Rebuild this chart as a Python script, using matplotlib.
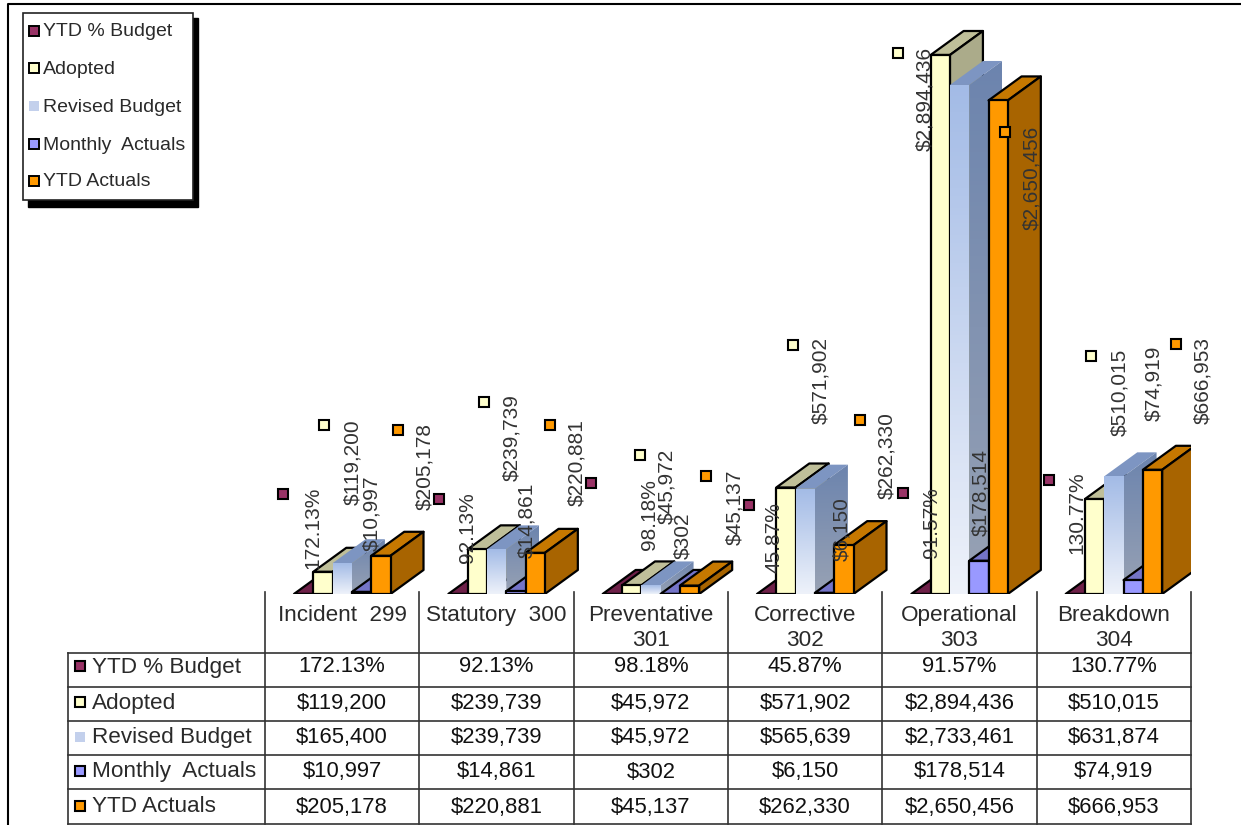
import numpy as np
import matplotlib
matplotlib.use("Agg")
import matplotlib.pyplot as plt
from matplotlib.patches import Polygon, Rectangle
from matplotlib.colors import LinearSegmentedColormap

plt.rcParams['font.family'] = ['Liberation Sans', 'DejaVu Sans']

# ---------- data ----------
categories = ["Incident  299", "Statutory  300", "Preventative\n301", "Corrective\n302", "Operational\n303", "Breakdown\n304"]
series_names = ["YTD % Budget", "Adopted", "Revised Budget", "Monthly  Actuals", "YTD Actuals"]
ytd_pct = [172.13, 92.13, 98.18, 45.87, 91.57, 130.77]
adopted = [119200, 239739, 45972, 571902, 2894436, 510015]
revised = [165400, 239739, 45972, 565639, 2733461, 631874]
monthly = [10997, 14861, 302, 6150, 178514, 74919]
ytd_actuals = [205178, 220881, 45137, 262330, 2650456, 666953]

# ---------- layout (pixels of the 1241x825 canvas) ----------
W, H = 1241, 825
BASE_Y = 594
PLOT_L, PLOT_R = 265, 1191
DOLLARS_PER_PX = 5370.0
CELL = (PLOT_R - PLOT_L) / 6
BAR_W = 19.3 / CELL
FIRST_BAR = 29 / CELL
DEPTH_X = 33 / CELL
DEPTH_Y = 24 * DOLLARS_PER_PX

pct_lab = [(313, 528), (467, 528), (649, 515), (774, 538), (931, 523), (1077, 513)]
ado_lab = [(353, 462), (512, 438), (667, 486), (821, 381), (925, 99), (1120, 392)]
mon_lab = [(372, 513), (527, 520), (683, 536), (842, 529), (981, 492), (1154, 383)]
act_lab = [(425, 467), (577, 463), (735, 507), (887, 456), (1032, 178), (1203, 381)]
pct_key = [(283, 494), (439, 499), (591, 483), (749, 505), (903, 493), (1049, 480)]
ado_key = [(324, 425), (484, 402), (640, 455), (793, 345), (898, 53), (1091, 356)]
act_key = [(398, 430), (550, 425), (706, 476), (860, 420), (1005, 132), (1176, 344)]

table_rows_y = [653, 687, 721, 755, 789, 824]
table_text_y = [667, 703, 738, 772, 807]
table_left = 68
legend_y = [32, 69, 107, 145, 182]

FRONT = ["#993366", "#FFFFCC", None, "#9999FF", "#FF9900"]
TOP = ["#6E2048", "#BFBF99", "#7D95C2", "#7474C8", "#C67800"]
SIDE = ["#6E2048", "#ABAB8A", None, "#6E6EB8", "#A86400"]
KEY_EDGE = ["black", "black", "none", "black", "black"]
KEY_FACE = ["#993366", "#FFFFCC", "#C3D0EC", "#9999FF", "#FF9900"]
INK = "#2A2A2A"

fig = plt.figure(figsize=(W / 100, H / 100), dpi=100, facecolor="white")

# chart axes: x in category cells, y in dollars
ax = fig.add_axes([PLOT_L / W, 1 - BASE_Y / H, (PLOT_R - PLOT_L) / W, BASE_Y / H])
ax.set_xlim(0, 6)
ax.set_ylim(0, BASE_Y * DOLLARS_PER_PX)
ax.axis("off")

front_cmap = LinearSegmentedColormap.from_list("f", ["#A3BBE6", "#EEF2FA"])
side_cmap = LinearSegmentedColormap.from_list("s", ["#6C84AE", "#98A2B4"])
grad = np.linspace(0, 1, 128).reshape(-1, 1)


def draw_bar(x, h, i, z):
    x0, x1 = x, x + BAR_W
    dx, dy = DEPTH_X, DEPTH_Y
    top = [(x0, h), (x1, h), (x1 + dx, h + dy), (x0 + dx, h + dy)]
    side = [(x1, 0), (x1 + dx, dy), (x1 + dx, h + dy), (x1, h)]
    front = [(x0, 0), (x1, 0), (x1, h), (x0, h)]
    if FRONT[i] is None:  # revised budget: soft gradient with no outline
        ax.add_patch(Polygon(top, closed=True, fc=TOP[i], ec="none", zorder=z))
        p = Polygon(side, closed=True, fc="none", ec="none", zorder=z)
        ax.add_patch(p)
        im = ax.imshow(grad, extent=(x1, x1 + dx, 0, h + dy), cmap=side_cmap, aspect="auto",
                       origin="upper", zorder=z + 0.1)
        im.set_clip_path(p)
        p2 = Polygon(front, closed=True, fc="none", ec="none", zorder=z)
        ax.add_patch(p2)
        im2 = ax.imshow(grad, extent=(x0, x1, 0, h), cmap=front_cmap, aspect="auto",
                        origin="upper", zorder=z + 0.2)
        im2.set_clip_path(p2)
    else:
        kw = dict(closed=True, ec="black", lw=1.6, joinstyle="round")
        ax.add_patch(Polygon(top, fc=TOP[i], zorder=z, **kw))
        ax.add_patch(Polygon(side, fc=SIDE[i], zorder=z + 0.1, **kw))
        ax.add_patch(Polygon(front, fc=FRONT[i], zorder=z + 0.2, **kw))


all_series = [ytd_pct, adopted, revised, monthly, ytd_actuals]
for c in range(len(categories)):
    for i, vals in enumerate(all_series):
        draw_bar(c + FIRST_BAR + i * BAR_W, vals[c], i, 2 + c * 10 + i)
ax.set_xlim(0, 6)
ax.set_ylim(0, BASE_Y * DOLLARS_PER_PX)

# overlay in pixel coordinates for frame, labels, table and legend
ov = fig.add_axes([0, 0, 1, 1], facecolor="none")
ov.set_xlim(0, W)
ov.set_ylim(H, 0)
ov.axis("off")

ov.plot([8, 8, W], [H, 3.5, 3.5], color="black", lw=1.5, zorder=1)


def key(x, y, i, ms=7.8, mew=1.5):
    ov.plot([x], [y], marker="s", ms=ms, mfc=KEY_FACE[i], mec=KEY_EDGE[i], mew=mew,
            ls="none", zorder=20)


money = lambda v: f"${v:,.0f}"
percent = lambda v: f"{v:.2f}%"

for vals, pos, fmt in [(ytd_pct, pct_lab, percent), (adopted, ado_lab, money),
                       (monthly, mon_lab, money), (ytd_actuals, act_lab, money)]:
    for v, (x, y) in zip(vals, pos):
        ov.text(x, y, fmt(v), rotation=90, ha="center", va="center", fontsize=15,
                color="#333333", zorder=15)
for pos, i in [(pct_key, 0), (ado_key, 1), (act_key, 4)]:
    for x, y in pos:
        key(x, y, i)

# table
line = dict(color="#333333", lw=1.2, zorder=5)
for y in table_rows_y:
    ov.plot([table_left, PLOT_R], [y, y], **line)
ov.plot([table_left, table_left], [table_rows_y[0], table_rows_y[-1]], **line)
for k in range(7):
    x = PLOT_L + k * CELL
    ov.plot([x, x], [592, table_rows_y[-1]], **line)

for k, cat in enumerate(categories):
    cx = PLOT_L + (k + 0.5) * CELL
    ov.text(cx, 605, cat, ha="center", va="top", fontsize=16.2, color=INK,
            linespacing=1.27, zorder=6)

formats = [percent, money, money, money, money]
for r, (name, vals, fmt) in enumerate(zip(series_names, all_series, formats)):
    cy = table_text_y[r]
    key(80, cy - 1, r, ms=7.4)
    ov.text(92, cy, name, ha="left", va="center", fontsize=16.2, color=INK, zorder=6)
    for k, v in enumerate(vals):
        ov.text(PLOT_L + (k + 0.5) * CELL, cy, fmt(v), ha="center", va="center",
                fontsize=15.8, color="#111111", zorder=6)

# legend with hard shadow
ov.add_patch(Rectangle((28, 18), 170, 189, fc="black", ec="black", zorder=30))
ov.add_patch(Rectangle((23, 13), 170, 187, fc="white", ec="#222222", lw=1.2, zorder=31))
for i, (name, y) in enumerate(zip(series_names, legend_y)):
    ov.plot([33.5], [y - 1], marker="s", ms=6.8, mfc=KEY_FACE[i], mec=KEY_EDGE[i], mew=1.4,
            ls="none", zorder=32)
    ov.text(43, y, name, ha="left", va="center", fontsize=14, color=INK, zorder=32)

fig.savefig("out.png", dpi=100, facecolor="white")
